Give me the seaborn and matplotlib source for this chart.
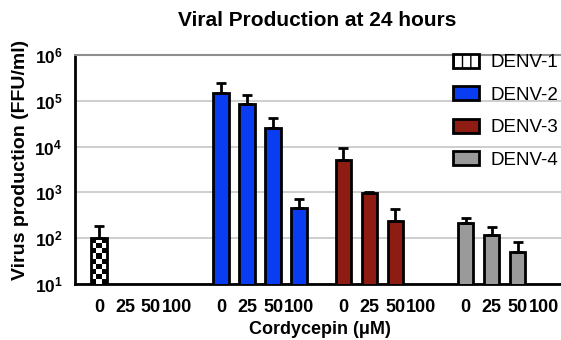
import numpy as np
import pandas as pd
import matplotlib
matplotlib.use("Agg")
import matplotlib.pyplot as plt
import seaborn as sns
from matplotlib.patches import Patch
from matplotlib.ticker import FixedLocator, FuncFormatter, NullLocator

# ---------------- data ----------------
serotypes = ["DENV-1", "DENV-2", "DENV-3", "DENV-4"]
concentrations = ["0", "25", "50", "100"]
# mean virus production (FFU/ml); None = no measurable production
denv1_mean = [100, None, None, None]
denv2_mean = [1.5e5, 8.5e4, 2.6e4, 450]
denv3_mean = [5000, 970, 240, None]
denv4_mean = [215, 118, 51, None]
# upper end of error bars (FFU/ml)
denv1_upper = [185, None, None, None]
denv2_upper = [2.4e5, 1.33e5, 4.2e4, 720]
denv3_upper = [9300, 1000, 440, None]
denv4_upper = [275, 175, 82, None]

title = "Viral Production at 24 hours"
xlabel = "Cordycepin (\u03bcM)"
ylabel = "Virus production (FFU/ml)"

colors = ["#ffffff", "#0a3cf2", "#8e1c12", "#9a9a9a"]
group_step = 4.7

means = [denv1_mean, denv2_mean, denv3_mean, denv4_mean]
uppers = [denv1_upper, denv2_upper, denv3_upper, denv4_upper]

rows = []
tick_pos, tick_lab = [], []
for gi, s in enumerate(serotypes):
    for ci, c in enumerate(concentrations):
        pos = round(gi * group_step + ci, 3)
        tick_pos.append(pos)
        tick_lab.append(c)
        m = means[gi][ci]
        if m is not None:
            rows.append({"pos": pos, "value": m, "upper": uppers[gi][ci],
                         "serotype": s})
df = pd.DataFrame(rows)

# ---------------- style ----------------
sns.set_style("white")
plt.rcParams["font.family"] = ["Liberation Sans", "DejaVu Sans"]
plt.rcParams["mathtext.fontset"] = "custom"
plt.rcParams["mathtext.rm"] = "Liberation Sans"
plt.rcParams["mathtext.bf"] = "Liberation Sans:bold"
for k in ["text.color", "axes.labelcolor", "xtick.color", "ytick.color"]:
    plt.rcParams[k] = "black"

W, H = 561, 340
fig = plt.figure(figsize=(W / 100, H / 100), dpi=100)
ax = fig.add_axes([75 / W, 56 / H, 505 / W, 229 / H])
ax.set_yscale("log")

sns.barplot(data=df, x="pos", y="value", hue="serotype", hue_order=serotypes,
            palette=colors, saturation=1, native_scale=True, dodge=False,
            width=0.6, edgecolor="black", linewidth=2.0, errorbar=None,
            legend=False, ax=ax, zorder=3)

ax.set_ylim(10, 1e6)
ax.set_xlim(-0.92, 18.5)

# checkerboard fill for DENV-1 bar(s)
d1 = df[df.serotype == "DENV-1"]
for p in ax.patches:
    cx = p.get_x() + p.get_width() / 2
    if any(abs(cx - v) < 1e-6 for v in d1.pos):
        x0, w = p.get_x(), p.get_width()
        top = p.get_y() + p.get_height()
        xe = np.linspace(x0, x0 + w, 4)
        ye = np.geomspace(10, top, 10)
        C = (np.add.outer(np.arange(9), np.arange(3)) % 2).astype(float)
        ax.pcolormesh(xe, ye, C, cmap="gray", vmin=0, vmax=1, zorder=2.9,
                      shading="flat")
        p.set_facecolor("none")
        p.set_zorder(3.1)

# upper error bars
ax.errorbar(df.pos, df.value, yerr=[np.zeros(len(df)), df.upper - df.value],
            fmt="none", ecolor="black", elinewidth=2.0, capsize=3.4,
            capthick=2.0, zorder=4)

# axes styling
ax.set_axisbelow(True)
ax.yaxis.grid(True, which="major", color="#c6c6c6", lw=1.2)
ax.xaxis.grid(False)
ax.spines["right"].set_visible(False)
ax.spines["top"].set_color("#8f8f8f")
ax.spines["top"].set_linewidth(1.5)
for sp in ["left", "bottom"]:
    ax.spines[sp].set_color("black")
    ax.spines[sp].set_linewidth(2)

ax.yaxis.set_major_locator(FixedLocator([10 ** k for k in range(1, 7)]))
ax.yaxis.set_minor_locator(NullLocator())
ax.yaxis.set_major_formatter(FuncFormatter(
    lambda v, _: r"$\mathbf{10^{%d}}$" % int(round(np.log10(v)))))
ax.set_xticks(tick_pos)
ax.set_xticklabels(tick_lab, fontweight="bold")
ax.tick_params(axis="both", direction="out", length=6, width=2,
               color="black", labelcolor="black")
ax.tick_params(axis="x", labelsize=13, pad=5)
ax.tick_params(axis="y", labelsize=12.5, pad=3)
ax.set_xlabel("")
ax.set_ylabel("")

fig.text(317 / W, 1 - 20 / H, title, ha="center", va="center",
         fontsize=15, fontweight="bold")
fig.text(320 / W, 1 - 329 / H, xlabel, ha="center", va="center",
         fontsize=13, fontweight="bold")
fig.text(21 / W, 1 - 160 / H, ylabel, ha="center", va="center",
         rotation=90, fontsize=14, fontweight="bold")

handles = [Patch(facecolor=c, edgecolor="black", linewidth=2.0) for c in colors]
handles[0] = Patch(facecolor="white", edgecolor="black", linewidth=2.0,
                   hatch="||")
ax.legend(handles, serotypes, loc="upper left",
          bbox_to_anchor=(453 / W, 1 - 54 / H), bbox_transform=fig.transFigure,
          frameon=False, fontsize=13.5, borderpad=0, borderaxespad=0,
          handlelength=1.4, handleheight=0.75, handletextpad=0.6,
          labelspacing=0.8)

fig.savefig("out.png", dpi=100)
